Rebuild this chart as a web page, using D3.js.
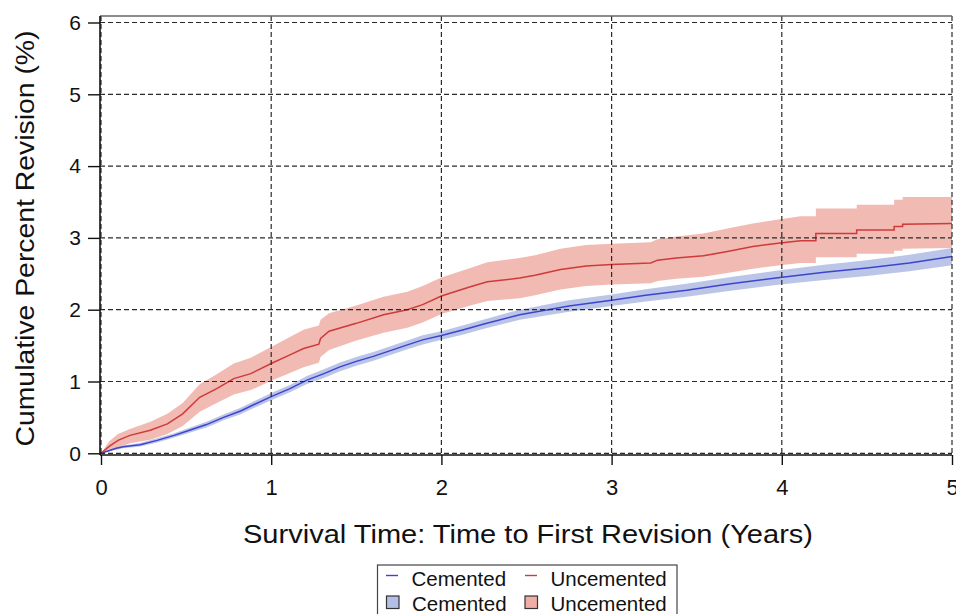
<!DOCTYPE html>
<html>
<head>
<meta charset="utf-8">
<script src="https://cdn.jsdelivr.net/npm/d3@7"></script>
<style>
  html, body { margin: 0; padding: 0; background: #fff; }
  svg { display: block; font-family: "Liberation Sans", Arial, sans-serif; }
</style>
</head>
<body>
<svg id="chart" width="956" height="614"></svg>
<script>
// Kaplan-Meier cumulative revision (%) with 95% confidence bands
const cementedTime  = [0, 0.09, 0.13, 0.23, 0.33, 0.43, 0.52, 0.62, 0.72, 0.82, 1.0, 1.11, 1.21, 1.31, 1.40, 1.50, 1.60, 1.70, 1.80, 1.89, 2.0, 2.13, 2.25, 2.46, 2.75, 3.0, 3.2, 3.44, 3.7, 3.99, 4.25, 4.5, 4.75, 5.0];
const cementedEst   = [0, 0.07, 0.09, 0.12, 0.18, 0.25, 0.32, 0.40, 0.50, 0.59, 0.79, 0.90, 1.02, 1.11, 1.20, 1.28, 1.35, 1.43, 1.51, 1.58, 1.64, 1.72, 1.80, 1.93, 2.05, 2.13, 2.20, 2.27, 2.36, 2.45, 2.52, 2.58, 2.65, 2.74];
const cementedLower = [0, 0.05, 0.07, 0.095, 0.15, 0.22, 0.285, 0.36, 0.46, 0.545, 0.74, 0.85, 0.965, 1.05, 1.14, 1.22, 1.29, 1.37, 1.45, 1.515, 1.58, 1.655, 1.735, 1.86, 1.97, 2.05, 2.115, 2.18, 2.265, 2.35, 2.415, 2.47, 2.535, 2.62];
const cementedUpper = [0, 0.09, 0.11, 0.145, 0.21, 0.28, 0.355, 0.44, 0.54, 0.635, 0.84, 0.95, 1.075, 1.17, 1.26, 1.34, 1.41, 1.49, 1.57, 1.645, 1.70, 1.785, 1.865, 2.0, 2.13, 2.21, 2.285, 2.36, 2.455, 2.55, 2.625, 2.69, 2.765, 2.86];

const uncementedTime  = [0, 0.05, 0.1, 0.17, 0.29, 0.39, 0.48, 0.58, 0.68, 0.78, 0.88, 1.0, 1.11, 1.19, 1.28, 1.29, 1.34, 1.5, 1.66, 1.8, 1.89, 2.0, 2.17, 2.27, 2.46, 2.55, 2.70, 2.85, 3.0, 3.23, 3.27, 3.38, 3.54, 3.68, 3.83, 3.99, 4.11, 4.2, 4.2, 4.44, 4.44, 4.66, 4.66, 4.71, 4.71, 5.0];
const uncementedEst   = [0, 0.10, 0.18, 0.25, 0.32, 0.41, 0.55, 0.78, 0.90, 1.04, 1.11, 1.25, 1.37, 1.46, 1.52, 1.60, 1.70, 1.81, 1.93, 2.0, 2.07, 2.19, 2.32, 2.39, 2.44, 2.48, 2.56, 2.61, 2.63, 2.65, 2.69, 2.72, 2.75, 2.81, 2.88, 2.93, 2.96, 2.96, 3.06, 3.06, 3.11, 3.11, 3.16, 3.16, 3.19, 3.20];
const uncementedLower = [0, 0.03, 0.08, 0.14, 0.19, 0.27, 0.38, 0.58, 0.70, 0.82, 0.88, 1.01, 1.12, 1.20, 1.26, 1.34, 1.44, 1.57, 1.68, 1.75, 1.82, 1.94, 2.06, 2.12, 2.16, 2.20, 2.28, 2.33, 2.35, 2.37, 2.40, 2.43, 2.46, 2.51, 2.57, 2.62, 2.65, 2.65, 2.73, 2.73, 2.78, 2.78, 2.82, 2.82, 2.85, 2.86];
const uncementedUpper = [0, 0.17, 0.27, 0.34, 0.44, 0.55, 0.70, 0.96, 1.10, 1.25, 1.33, 1.48, 1.62, 1.72, 1.78, 1.86, 1.95, 2.06, 2.18, 2.25, 2.33, 2.45, 2.58, 2.66, 2.72, 2.76, 2.85, 2.90, 2.92, 2.94, 2.98, 3.02, 3.06, 3.13, 3.20, 3.26, 3.30, 3.30, 3.41, 3.41, 3.46, 3.46, 3.53, 3.53, 3.57, 3.57];

const xTicks = [0, 1, 2, 3, 4, 5];
const yTicks = [0, 1, 2, 3, 4, 5, 6];
const xTitle = "Survival Time: Time to First Revision (Years)";
const yTitle = "Cumulative Percent Revision (%)";
const seriesNames = ["Cemented", "Uncemented"];

const colors = {
  cementedLine: "#3f43d0",
  cementedBand: "#b3bfe6",
  uncementedLine: "#cf3a3a",
  uncementedBand: "#eeaea6"
};

const svg = d3.select("#chart");
const plot = { left: 100, right: 952, top: 16, bottom: 455 };

const x = d3.scaleLinear().domain([0, 5]).range([101, 952]);
const y = d3.scaleLinear().domain([0, 6]).range([453.3, 22.5]);

function rows(t, est, lo, hi) {
  return t.map((v, i) => ({ t: v, est: est[i], lo: lo[i], hi: hi[i] }));
}
const cemented = rows(cementedTime, cementedEst, cementedLower, cementedUpper);
const uncemented = rows(uncementedTime, uncementedEst, uncementedLower, uncementedUpper);

svg.append("defs").append("clipPath").attr("id", "plotClip")
  .append("rect")
  .attr("x", plot.left).attr("y", plot.top)
  .attr("width", plot.right - plot.left).attr("height", plot.bottom - plot.top);

const area = d3.area().x(d => x(d.t)).y0(d => y(d.lo)).y1(d => y(d.hi));
const line = d3.line().x(d => x(d.t)).y(d => y(d.est));

const g = svg.append("g").attr("clip-path", "url(#plotClip)");

// confidence bands
g.append("path").datum(cemented).attr("d", area).attr("fill", colors.cementedBand).attr("fill-opacity", 0.9);
g.append("path").datum(uncemented).attr("d", area).attr("fill", colors.uncementedBand).attr("fill-opacity", 0.85);

// dashed grid
const grid = svg.append("g").attr("stroke", "#2a2a2a").attr("stroke-width", 1.2).attr("stroke-dasharray", "5,3");
grid.selectAll("line.v").data(xTicks).join("line")
  .attr("x1", d => x(d)).attr("x2", d => x(d))
  .attr("y1", plot.top).attr("y2", plot.bottom);
grid.selectAll("line.h").data(yTicks).join("line")
  .attr("x1", plot.left).attr("x2", plot.right)
  .attr("y1", d => y(d)).attr("y2", d => y(d));

// estimate lines
g.append("path").datum(cemented).attr("d", line).attr("fill", "none")
  .attr("stroke", colors.cementedLine).attr("stroke-width", 1.5);
g.append("path").datum(uncemented).attr("d", line).attr("fill", "none")
  .attr("stroke", colors.uncementedLine).attr("stroke-width", 1.5);

// frame
svg.append("line").attr("x1", plot.left).attr("x2", plot.right).attr("y1", plot.top).attr("y2", plot.top)
  .attr("stroke", "#666").attr("stroke-width", 1.5);
svg.append("line").attr("x1", plot.left).attr("x2", plot.left).attr("y1", plot.top).attr("y2", plot.bottom)
  .attr("stroke", "#111").attr("stroke-width", 1.6);
svg.append("line").attr("x1", plot.left).attr("x2", plot.right).attr("y1", plot.bottom).attr("y2", plot.bottom)
  .attr("stroke", "#111").attr("stroke-width", 1.6);

// axes
const yAxis = svg.append("g").attr("transform", `translate(${plot.left},0)`)
  .call(d3.axisLeft(y).tickValues(yTicks).tickSize(12).tickSizeOuter(0).tickPadding(7).tickFormat(d3.format("d")));
yAxis.select(".domain").remove();
yAxis.selectAll(".tick line").attr("stroke", "#111").attr("stroke-width", 1.4);
yAxis.selectAll(".tick text").attr("font-size", 21).attr("fill", "#111")
  .attr("font-family", "'Liberation Sans', Arial, sans-serif");

const xAxis = svg.append("g").attr("transform", `translate(0,${plot.bottom})`)
  .call(d3.axisBottom(x).tickValues(xTicks).tickSize(10).tickSizeOuter(0).tickPadding(14).tickFormat(d3.format("d")));
xAxis.select(".domain").remove();
xAxis.selectAll(".tick line").attr("stroke", "#111").attr("stroke-width", 1.4);
xAxis.selectAll(".tick text").attr("font-size", 22).attr("fill", "#111")
  .attr("font-family", "'Liberation Sans', Arial, sans-serif");

// titles (glyphs widened to the title's run length)
svg.append("text").attr("x", 528).attr("y", 543).attr("text-anchor", "middle")
  .attr("font-size", 26).attr("fill", "#111")
  .attr("textLength", 570).attr("lengthAdjust", "spacingAndGlyphs")
  .text(xTitle);
svg.append("text").attr("transform", "translate(33.5,238.5) rotate(-90)").attr("text-anchor", "middle")
  .attr("font-size", 26).attr("fill", "#111")
  .attr("textLength", 416).attr("lengthAdjust", "spacingAndGlyphs")
  .text(yTitle);

// legend
const legend = svg.append("g");
legend.append("rect").attr("x", 377.5).attr("y", 565).attr("width", 299.5).attr("height", 60)
  .attr("fill", "#fff").attr("stroke", "#444").attr("stroke-width", 1.2);
const legendItems = [
  { kind: "line", name: seriesNames[0], color: colors.cementedLine, x: 386, row: 0 },
  { kind: "line", name: seriesNames[1], color: colors.uncementedLine, x: 525, row: 0 },
  { kind: "box", name: seriesNames[0], color: colors.cementedBand, x: 386.5, row: 1 },
  { kind: "box", name: seriesNames[1], color: colors.uncementedBand, x: 525, row: 1 }
];
const rowBase = [586, 611];
legendItems.forEach(it => {
  const base = rowBase[it.row];
  if (it.kind === "line") {
    legend.append("line").attr("x1", it.x).attr("x2", it.x + 12).attr("y1", base - 10.5).attr("y2", base - 10.5)
      .attr("stroke", it.color).attr("stroke-width", 1.4);
  } else {
    legend.append("rect").attr("x", it.x).attr("y", base - 15).attr("width", 12.5).attr("height", 12.5)
      .attr("fill", it.color).attr("stroke", "#333").attr("stroke-width", 1.2);
  }
  legend.append("text").attr("x", it.x + 25.5).attr("y", base)
    .attr("font-size", 20.5).attr("fill", "#111").text(it.name);
});
</script>
</body>
</html>
